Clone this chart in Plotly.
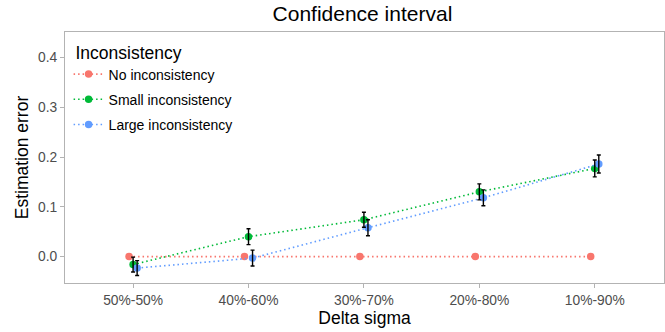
import plotly.graph_objects as go

categories = ["50%-50%", "40%-60%", "30%-70%", "20%-80%", "10%-90%"]
series_names = ["No inconsistency", "Small inconsistency", "Large inconsistency"]
no_incons = [0.0, 0.0, 0.0, 0.0, 0.0]
no_err = [0.0, 0.0, 0.0, 0.0, 0.0]
small_incons = [-0.016, 0.040, 0.074, 0.130, 0.177]
small_err = [0.015, 0.016, 0.015, 0.016, 0.017]
large_incons = [-0.023, -0.003, 0.058, 0.118, 0.186]
large_err = [0.015, 0.016, 0.016, 0.016, 0.018]
y_ticks = [0.0, 0.1, 0.2, 0.3, 0.4]

colors = ["#F8766D", "#00BA38", "#619CFF"]
offsets = [-0.035, 0.0, 0.035]
values = [no_incons, small_incons, large_incons]
errors = [no_err, small_err, large_err]

fig = go.Figure()
idx = list(range(len(categories)))
for name, vals, col, off in zip(series_names, values, colors, offsets):
    fig.add_trace(go.Scatter(
        x=[i + off for i in idx], y=vals, name=name, legendgroup=name,
        mode="lines+markers",
        line=dict(color=col, width=1.6, dash="1.5px,3px"),
        marker=dict(color=col, size=7.5),
    ))
for name, vals, errs, col, off in zip(series_names, values, errors, colors, offsets):
    if max(errs) == 0:
        continue
    fig.add_trace(go.Scatter(
        x=[i + off for i in idx], y=vals, mode="markers", showlegend=False,
        marker=dict(size=0.1, opacity=0), hoverinfo="skip",
        error_y=dict(type="data", array=errs, color="black", thickness=1.4, width=2),
    ))

axis_common = dict(showline=True, linecolor="#b3b3b3", linewidth=1, mirror=True,
                   showgrid=False, zeroline=False, ticks="outside", ticklen=4,
                   tickcolor="#b3b3b3", tickfont=dict(size=13.8, color="#4d4d4d"))
fig.update_layout(
    width=665, height=332,
    margin=dict(l=65, r=1, t=32, b=49),
    paper_bgcolor="white", plot_bgcolor="white",
    font=dict(family="Liberation Sans, Arial, sans-serif", color="black"),
    title=dict(text="Confidence interval", x=0.545, xanchor="center", y=0.958,
               yanchor="middle", font=dict(size=21, color="black")),
    xaxis=dict(range=[-0.59, 4.6], tickvals=idx, ticktext=categories,
               title=dict(text="Delta sigma", font=dict(size=17.5), standoff=2), **axis_common),
    yaxis=dict(range=[-0.053, 0.451], tickvals=y_ticks,
               ticktext=[f"{v:.1f}" for v in y_ticks],
               title=dict(text="Estimation error", font=dict(size=17.5), standoff=4), **axis_common),
    legend=dict(x=0.006, y=0.985, xanchor="left", yanchor="top",
                bgcolor="rgba(255,255,255,0)", tracegroupgap=4,
                title=dict(text="\u00a0Inconsistency", font=dict(size=17.5)),
                font=dict(size=14, color="black")),
    showlegend=True,
)
fig.write_html("out.html")
